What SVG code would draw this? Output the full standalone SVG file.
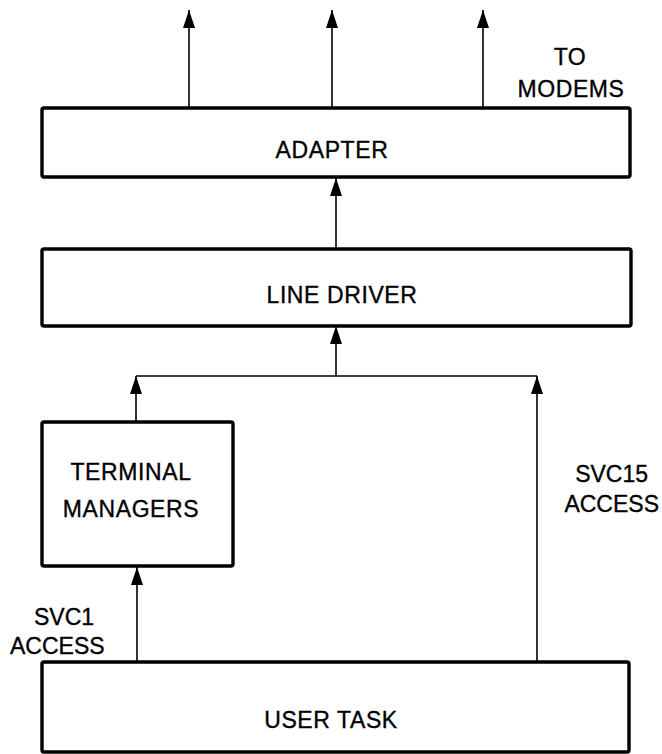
<svg xmlns="http://www.w3.org/2000/svg" width="662" height="754" viewBox="0 0 662 754">
<style>
.box{fill:#fff;stroke:#000;stroke-width:3.4}
.lbl{font-family:"Liberation Sans",Arial,sans-serif;font-size:23px;letter-spacing:0.6px;fill:#000;stroke:#000;stroke-width:0.35;text-anchor:middle}
.end{text-anchor:end;letter-spacing:0}
.start{text-anchor:start;letter-spacing:0}
.conn{fill:none;stroke:#000;stroke-width:1.6}
</style>
<defs>
<marker id="ah" viewBox="0 0 18 12" refX="18" refY="6" markerWidth="18" markerHeight="12" markerUnits="userSpaceOnUse" orient="auto">
<path d="M0,0 L18,6 L0,12 Z" fill="#000"/>
</marker>
</defs>
<rect width="662" height="754" fill="#fff"/>
<g id="connectors">
<path class="conn" d="M189,108 V10" marker-end="url(#ah)"/>
<path class="conn" d="M332,108 V10" marker-end="url(#ah)"/>
<path class="conn" d="M483,108 V10" marker-end="url(#ah)"/>
<path class="conn" d="M336,249 V178" marker-end="url(#ah)"/>
<path class="conn" d="M336,376 V326" marker-end="url(#ah)"/>
<path class="conn" d="M136,376 H537"/>
<path class="conn" d="M136,422 V376" marker-end="url(#ah)"/>
<path class="conn" d="M537,662 V376" marker-end="url(#ah)"/>
<path class="conn" d="M137,662 V567" marker-end="url(#ah)"/>
</g>
<g id="adapter">
<rect class="box" x="42" y="108" width="588" height="69" rx="2"/>
<text class="lbl" x="332" y="158">ADAPTER</text>
</g>
<g id="line-driver">
<rect class="box" x="42" y="249" width="589" height="77" rx="2"/>
<text class="lbl" x="342" y="303">LINE DRIVER</text>
</g>
<g id="terminal-managers">
<rect class="box" x="42" y="422" width="191" height="144" rx="2"/>
<text class="lbl" x="131" y="480">TERMINAL</text>
<text class="lbl" x="131" y="517">MANAGERS</text>
</g>
<g id="user-task">
<rect class="box" x="42" y="662" width="587" height="90" rx="2"/>
<text class="lbl" x="331" y="728">USER TASK</text>
</g>
<g id="labels">
<text class="lbl" x="570" y="65">TO</text>
<text class="lbl" x="571" y="97">MODEMS</text>
<text class="lbl end" x="648" y="482">SVC15</text>
<text class="lbl end" x="659" y="512">ACCESS</text>
<text class="lbl start" x="34" y="625">SVC1</text>
<text class="lbl start" x="10" y="654">ACCESS</text>
</g>
</svg>
